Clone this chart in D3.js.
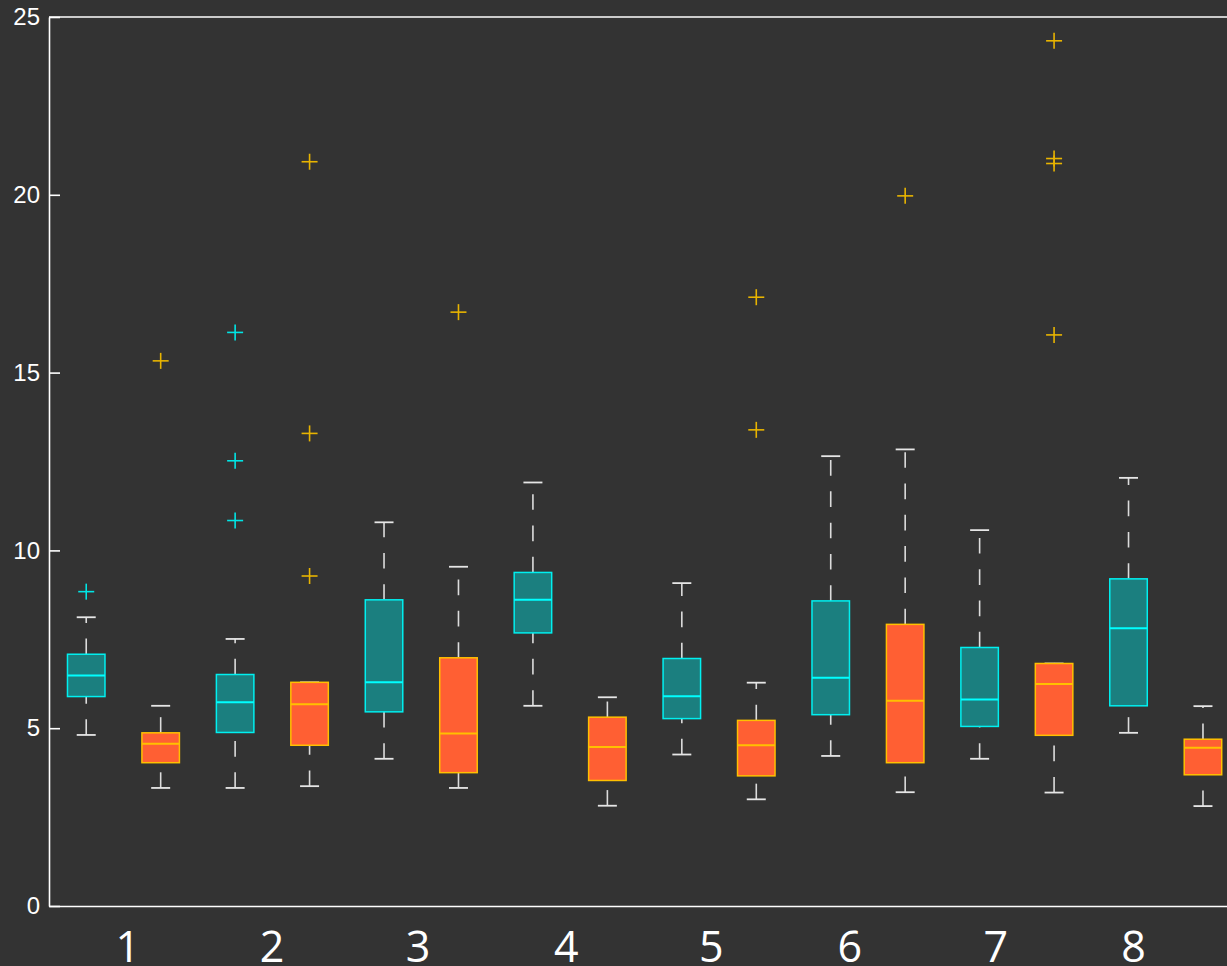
<!DOCTYPE html>
<html>
<head>
<meta charset="utf-8">
<script src="https://cdn.jsdelivr.net/npm/d3@7"></script>
<style>
  html, body { margin: 0; padding: 0; background: #333333; }
  svg { display: block; }
</style>
</head>
<body>
<svg id="chart" width="1227" height="966"></svg>
<script>
// Group labels along the x axis and where they sit (in box-index units)
const groups = ["1", "2", "3", "4", "5", "6", "7", "8"];
const groupTickPos = [1.55, 3.49, 5.45, 7.44, 9.39, 11.25, 13.21, 15.06];
const yTicks = [0, 5, 10, 15, 20, 25];

// Series A (teal boxes): whisker low, Q1, median, Q3, whisker high, outliers
const aLow  = [4.81, 3.32, 4.14, 5.63, 4.26, 4.22, 4.14, 4.87];
const aQ1   = [5.89, 4.88, 5.46, 7.68, 5.27, 5.38, 5.05, 5.63];
const aMed  = [6.48, 5.73, 6.29, 8.61, 5.90, 6.42, 5.81, 7.81];
const aQ3   = [7.08, 6.51, 8.61, 9.38, 6.96, 8.58, 7.27, 9.20];
const aHigh = [8.12, 7.51, 10.79, 11.91, 9.08, 12.65, 10.57, 12.04];
const aOut  = [[8.84], [16.13, 12.52, 10.84], [], [], [], [], [], []];

// Series B (orange boxes)
const bLow  = [3.32, 3.37, 3.32, 2.82, 3.00, 3.20, 3.19, 2.81];
const bQ1   = [4.03, 4.52, 3.75, 3.53, 3.66, 4.03, 4.80, 3.69];
const bMed  = [4.56, 5.67, 4.85, 4.47, 4.52, 5.77, 6.24, 4.45];
const bQ3   = [4.87, 6.29, 6.98, 5.31, 5.22, 7.92, 6.82, 4.69];
const bHigh = [5.63, 6.29, 9.54, 5.87, 6.28, 12.84, 6.82, 5.62];
const bOut  = [[15.33], [20.93, 13.29, 9.28], [16.70], [], [17.12, 13.39], [19.97],
               [24.33, 21.02, 20.88, 16.06], []];

const styleA = { fill: "#1b7f7f", stroke: "#00f0f0", median: "#00ffff", outlier: "#00e5e5" };
const styleB = { fill: "#ff5f33", stroke: "#ffc000", median: "#ffc000", outlier: "#e8b400" };

// Interleave the two series: A at odd positions, B at even positions
const boxes = [];
groups.forEach((g, i) => {
  boxes.push({ pos: 2 * i + 1, lo: aLow[i], q1: aQ1[i], med: aMed[i], q3: aQ3[i], hi: aHigh[i], out: aOut[i], s: styleA });
  boxes.push({ pos: 2 * i + 2, lo: bLow[i], q1: bQ1[i], med: bMed[i], q3: bQ3[i], hi: bHigh[i], out: bOut[i], s: styleB });
});

const svg = d3.select("#chart");
const plotLeft = 49, plotTop = 17, plotBottom = 906;
const step = 74.45;

const x = d3.scaleLinear().domain([0.5, 16.5]).range([plotLeft, plotLeft + 16 * step]);
const y = d3.scaleLinear().domain([0, 25]).range([plotBottom, plotTop]);

const boxW = 37.5, capW = 19, plusR = 8;

const g = svg.append("g");

// Whiskers (dashes start at the lower end of each segment)
const whiskerColor = "#dcdcdc";
g.selectAll("line.wlo").data(boxes).join("line")
  .attr("x1", d => x(d.pos)).attr("x2", d => x(d.pos))
  .attr("y1", d => y(d.lo)).attr("y2", d => y(d.q1))
  .attr("stroke", whiskerColor).attr("stroke-width", 1.6)
  .attr("stroke-dasharray", "15.65,15.65");
g.selectAll("line.whi").data(boxes).join("line")
  .attr("x1", d => x(d.pos)).attr("x2", d => x(d.pos))
  .attr("y1", d => y(d.q3)).attr("y2", d => y(d.hi))
  .attr("stroke", whiskerColor).attr("stroke-width", 1.6)
  .attr("stroke-dasharray", "15.65,15.65");

// Whisker caps
["lo", "hi"].forEach(k => {
  g.selectAll("line.cap-" + k).data(boxes).join("line")
    .attr("class", "cap-" + k)
    .attr("x1", d => x(d.pos) - capW / 2).attr("x2", d => x(d.pos) + capW / 2)
    .attr("y1", d => y(d[k])).attr("y2", d => y(d[k]))
    .attr("stroke", "#e6e6e6").attr("stroke-width", 1.8);
});

// Boxes
g.selectAll("rect.box").data(boxes).join("rect")
  .attr("class", "box")
  .attr("x", d => x(d.pos) - boxW / 2)
  .attr("width", boxW)
  .attr("y", d => y(d.q3))
  .attr("height", d => y(d.q1) - y(d.q3))
  .attr("fill", d => d.s.fill)
  .attr("stroke", d => d.s.stroke)
  .attr("stroke-width", 1.5);

// Medians
g.selectAll("line.med").data(boxes).join("line")
  .attr("class", "med")
  .attr("x1", d => x(d.pos) - boxW / 2).attr("x2", d => x(d.pos) + boxW / 2)
  .attr("y1", d => y(d.med)).attr("y2", d => y(d.med))
  .attr("stroke", d => d.s.median).attr("stroke-width", 2);

// Outliers drawn as plus signs
const outliers = boxes.flatMap(d => d.out.map(v => ({ pos: d.pos, v, s: d.s })));
const plus = g.selectAll("g.out").data(outliers).join("g")
  .attr("class", "out")
  .attr("transform", d => `translate(${x(d.pos)},${y(d.v)})`);
plus.append("line").attr("x1", -plusR).attr("x2", plusR).attr("y1", 0).attr("y2", 0)
  .attr("stroke", d => d.s.outlier).attr("stroke-width", 1.6);
plus.append("line").attr("x1", 0).attr("x2", 0).attr("y1", -plusR).attr("y2", plusR)
  .attr("stroke", d => d.s.outlier).attr("stroke-width", 1.6);

// Y axis with inward ticks
const yAxis = svg.append("g")
  .attr("transform", `translate(${plotLeft},0)`)
  .call(d3.axisLeft(y).tickValues(yTicks).tickFormat(d3.format("d"))
    .tickSizeInner(-11).tickSizeOuter(0).tickPadding(9));
yAxis.selectAll("path, line").attr("stroke", "#ffffff").attr("stroke-width", 1.6);
yAxis.selectAll("text")
  .attr("fill", "#ffffff")
  .attr("font-family", "'Liberation Sans', Arial, sans-serif")
  .attr("font-size", 24);

// X axis: baseline plus group labels
const xAxis = svg.append("g")
  .attr("transform", `translate(0,${plotBottom})`)
  .call(d3.axisBottom(x).tickValues(groupTickPos).tickFormat((d, i) => groups[i])
    .tickSizeInner(0).tickSizeOuter(0).tickPadding(25));
xAxis.select("path.domain").attr("stroke", "#ffffff").attr("stroke-width", 1.6);
xAxis.selectAll("text")
  .attr("fill", "#ffffff")
  .attr("font-family", "'Open Sans', 'Noto Sans', sans-serif")
  .attr("font-size", 43);

// Top frame line
svg.append("line")
  .attr("x1", plotLeft).attr("x2", x(16.5))
  .attr("y1", plotTop).attr("y2", plotTop)
  .attr("stroke", "#ffffff").attr("stroke-width", 1.6);
</script>
</body>
</html>
